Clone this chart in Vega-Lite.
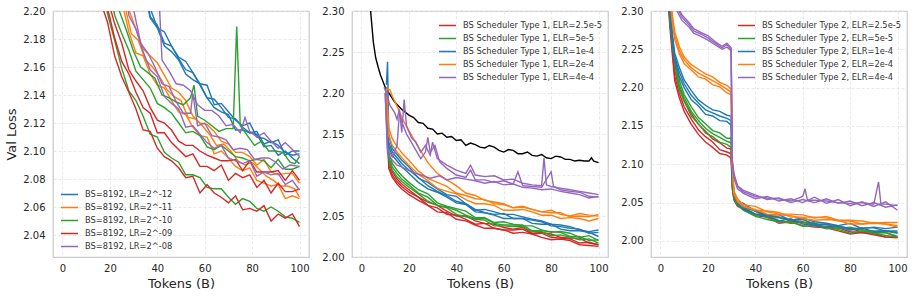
{
"$schema":"https://vega.github.io/schema/vega-lite/v6.json",
"padding":5,
"background":"white",
"spacing":43,
"bounds":"flush",
"resolve":{"scale":{"color":"independent"},"legend":{"color":"independent"}},
"config":{
"font":"DejaVu Sans",
"view":{"stroke":"#cccccc","strokeWidth":1.25},
"axis":{"labelFont":"DejaVu Sans","labelFontSize":10,"labelColor":"#262626","titleFont":"DejaVu Sans","titleFontSize":13,"titleFontWeight":"normal","titleColor":"#262626","ticks":false,"tickSize":0,"domain":false,"gridColor":"#e3e3e3","gridDash":[3,2],"gridWidth":0.8},
"axisX":{"labelPadding":6,"titlePadding":4},
"axisY":{"labelPadding":8,"titlePadding":4},
"legend":{"symbolType":"stroke","symbolStrokeWidth":1.5,"symbolSize":289,"labelFont":"DejaVu Sans","labelFontSize":8.3,"labelColor":"#333333","rowPadding":-0.75,"labelOffset":6,"labelLimit":220}
},
"datasets":{
"p1":[
{"g":"b","k":1,"x":35,"y":2.218},{"g":"b","k":1,"x":37,"y":2.196},{"g":"b","k":1,"x":40,"y":2.190},{"g":"b","k":1,"x":43,"y":2.177},{"g":"b","k":1,"x":46,"y":2.175},{"g":"b","k":1,"x":49,"y":2.166},{"g":"b","k":1,"x":52,"y":2.158},{"g":"b","k":1,"x":55,"y":2.156},{"g":"b","k":1,"x":58,"y":2.147},{"g":"b","k":1,"x":61,"y":2.138},{"g":"b","k":1,"x":64,"y":2.137},{"g":"b","k":1,"x":67,"y":2.131},{"g":"b","k":1,"x":70,"y":2.124},{"g":"b","k":1,"x":73,"y":2.123},{"g":"b","k":1,"x":76,"y":2.117},{"g":"b","k":1,"x":79,"y":2.113},{"g":"b","k":1,"x":82,"y":2.114},{"g":"b","k":1,"x":85,"y":2.105},{"g":"b","k":1,"x":88,"y":2.107},{"g":"b","k":1,"x":91,"y":2.104},{"g":"b","k":1,"x":94,"y":2.099},{"g":"b","k":1,"x":97,"y":2.097},{"g":"b","k":1,"x":100,"y":2.098},
{"g":"b","k":2,"x":35,"y":2.223},{"g":"b","k":2,"x":37,"y":2.202},{"g":"b","k":2,"x":40,"y":2.188},{"g":"b","k":2,"x":43,"y":2.185},{"g":"b","k":2,"x":46,"y":2.175},{"g":"b","k":2,"x":49,"y":2.167},{"g":"b","k":2,"x":52,"y":2.164},{"g":"b","k":2,"x":55,"y":2.156},{"g":"b","k":2,"x":58,"y":2.148},{"g":"b","k":2,"x":61,"y":2.147},{"g":"b","k":2,"x":64,"y":2.133},{"g":"b","k":2,"x":67,"y":2.134},{"g":"b","k":2,"x":70,"y":2.128},{"g":"b","k":2,"x":73,"y":2.122},{"g":"b","k":2,"x":76,"y":2.118},{"g":"b","k":2,"x":79,"y":2.120},{"g":"b","k":2,"x":82,"y":2.110},{"g":"b","k":2,"x":85,"y":2.109},{"g":"b","k":2,"x":88,"y":2.106},{"g":"b","k":2,"x":91,"y":2.108},{"g":"b","k":2,"x":94,"y":2.097},{"g":"b","k":2,"x":97,"y":2.100},{"g":"b","k":2,"x":100,"y":2.100},
{"g":"b","k":3,"x":35,"y":2.211},{"g":"b","k":3,"x":37,"y":2.195},{"g":"b","k":3,"x":40,"y":2.188},{"g":"b","k":3,"x":43,"y":2.175},{"g":"b","k":3,"x":46,"y":2.171},{"g":"b","k":3,"x":49,"y":2.165},{"g":"b","k":3,"x":52,"y":2.155},{"g":"b","k":3,"x":55,"y":2.151},{"g":"b","k":3,"x":58,"y":2.148},{"g":"b","k":3,"x":61,"y":2.138},{"g":"b","k":3,"x":64,"y":2.131},{"g":"b","k":3,"x":67,"y":2.128},{"g":"b","k":3,"x":70,"y":2.126},{"g":"b","k":3,"x":73,"y":2.115},{"g":"b","k":3,"x":76,"y":2.115},{"g":"b","k":3,"x":79,"y":2.113},{"g":"b","k":3,"x":82,"y":2.112},{"g":"b","k":3,"x":85,"y":2.103},{"g":"b","k":3,"x":88,"y":2.104},{"g":"b","k":3,"x":91,"y":2.097},{"g":"b","k":3,"x":94,"y":2.100},{"g":"b","k":3,"x":97,"y":2.095},{"g":"b","k":3,"x":100,"y":2.091},
{"g":"o","k":1,"x":22,"y":2.232},{"g":"o","k":1,"x":25,"y":2.207},{"g":"o","k":1,"x":28,"y":2.185},{"g":"o","k":1,"x":31,"y":2.170},{"g":"o","k":1,"x":34,"y":2.168},{"g":"o","k":1,"x":37,"y":2.155},{"g":"o","k":1,"x":40,"y":2.147},{"g":"o","k":1,"x":43,"y":2.145},{"g":"o","k":1,"x":46,"y":2.136},{"g":"o","k":1,"x":49,"y":2.128},{"g":"o","k":1,"x":52,"y":2.126},{"g":"o","k":1,"x":55,"y":2.117},{"g":"o","k":1,"x":58,"y":2.111},{"g":"o","k":1,"x":61,"y":2.110},{"g":"o","k":1,"x":64,"y":2.098},{"g":"o","k":1,"x":67,"y":2.100},{"g":"o","k":1,"x":70,"y":2.095},{"g":"o","k":1,"x":73,"y":2.089},{"g":"o","k":1,"x":76,"y":2.086},{"g":"o","k":1,"x":79,"y":2.088},{"g":"o","k":1,"x":82,"y":2.079},{"g":"o","k":1,"x":85,"y":2.077},{"g":"o","k":1,"x":88,"y":2.075},{"g":"o","k":1,"x":91,"y":2.076},{"g":"o","k":1,"x":94,"y":2.066},{"g":"o","k":1,"x":97,"y":2.068},{"g":"o","k":1,"x":100,"y":2.066},
{"g":"o","k":2,"x":23,"y":2.237},{"g":"o","k":2,"x":26,"y":2.206},{"g":"o","k":2,"x":29,"y":2.184},{"g":"o","k":2,"x":32,"y":2.179},{"g":"o","k":2,"x":35,"y":2.165},{"g":"o","k":2,"x":38,"y":2.160},{"g":"o","k":2,"x":41,"y":2.153},{"g":"o","k":2,"x":44,"y":2.144},{"g":"o","k":2,"x":47,"y":2.139},{"g":"o","k":2,"x":50,"y":2.136},{"g":"o","k":2,"x":53,"y":2.124},{"g":"o","k":2,"x":56,"y":2.123},{"g":"o","k":2,"x":59,"y":2.118},{"g":"o","k":2,"x":62,"y":2.112},{"g":"o","k":2,"x":65,"y":2.104},{"g":"o","k":2,"x":68,"y":2.105},{"g":"o","k":2,"x":71,"y":2.100},{"g":"o","k":2,"x":74,"y":2.093},{"g":"o","k":2,"x":77,"y":2.090},{"g":"o","k":2,"x":80,"y":2.092},{"g":"o","k":2,"x":83,"y":2.087},{"g":"o","k":2,"x":86,"y":2.082},{"g":"o","k":2,"x":89,"y":2.079},{"g":"o","k":2,"x":92,"y":2.075},{"g":"o","k":2,"x":95,"y":2.075},{"g":"o","k":2,"x":98,"y":2.073},{"g":"o","k":2,"x":100,"y":2.067},
{"g":"o","k":3,"x":25,"y":2.227},{"g":"o","k":3,"x":28,"y":2.201},{"g":"o","k":3,"x":31,"y":2.187},{"g":"o","k":3,"x":34,"y":2.173},{"g":"o","k":3,"x":37,"y":2.168},{"g":"o","k":3,"x":40,"y":2.163},{"g":"o","k":3,"x":43,"y":2.154},{"g":"o","k":3,"x":46,"y":2.145},{"g":"o","k":3,"x":49,"y":2.142},{"g":"o","k":3,"x":52,"y":2.136},{"g":"o","k":3,"x":55,"y":2.125},{"g":"o","k":3,"x":58,"y":2.120},{"g":"o","k":3,"x":61,"y":2.119},{"g":"o","k":3,"x":64,"y":2.114},{"g":"o","k":3,"x":67,"y":2.107},{"g":"o","k":3,"x":70,"y":2.105},{"g":"o","k":3,"x":73,"y":2.099},{"g":"o","k":3,"x":76,"y":2.099},{"g":"o","k":3,"x":79,"y":2.096},{"g":"o","k":3,"x":82,"y":2.090},{"g":"o","k":3,"x":85,"y":2.094},{"g":"o","k":3,"x":88,"y":2.085},{"g":"o","k":3,"x":91,"y":2.083},{"g":"o","k":3,"x":94,"y":2.084},{"g":"o","k":3,"x":97,"y":2.084},{"g":"o","k":3,"x":100,"y":2.077},
{"g":"g","k":1,"x":16,"y":2.240},{"g":"g","k":1,"x":19,"y":2.198},{"g":"g","k":1,"x":22,"y":2.179},{"g":"g","k":1,"x":25,"y":2.159},{"g":"g","k":1,"x":28,"y":2.143},{"g":"g","k":1,"x":31,"y":2.136},{"g":"g","k":1,"x":34,"y":2.125},{"g":"g","k":1,"x":37,"y":2.112},{"g":"g","k":1,"x":40,"y":2.110},{"g":"g","k":1,"x":43,"y":2.099},{"g":"g","k":1,"x":46,"y":2.095},{"g":"g","k":1,"x":49,"y":2.092},{"g":"g","k":1,"x":52,"y":2.083},{"g":"g","k":1,"x":55,"y":2.083},{"g":"g","k":1,"x":58,"y":2.081},{"g":"g","k":1,"x":61,"y":2.074},{"g":"g","k":1,"x":64,"y":2.073},{"g":"g","k":1,"x":67,"y":2.073},{"g":"g","k":1,"x":70,"y":2.067},{"g":"g","k":1,"x":73,"y":2.062},{"g":"g","k":1,"x":76,"y":2.066},{"g":"g","k":1,"x":79,"y":2.064},{"g":"g","k":1,"x":82,"y":2.059},{"g":"g","k":1,"x":85,"y":2.057},{"g":"g","k":1,"x":88,"y":2.060},{"g":"g","k":1,"x":91,"y":2.057},{"g":"g","k":1,"x":94,"y":2.053},{"g":"g","k":1,"x":97,"y":2.052},{"g":"g","k":1,"x":100,"y":2.049},
{"g":"g","k":2,"x":18,"y":2.238},{"g":"g","k":2,"x":19,"y":2.228},{"g":"g","k":2,"x":22,"y":2.197},{"g":"g","k":2,"x":25,"y":2.184},{"g":"g","k":2,"x":28,"y":2.172},{"g":"g","k":2,"x":31,"y":2.157},{"g":"g","k":2,"x":34,"y":2.151},{"g":"g","k":2,"x":37,"y":2.145},{"g":"g","k":2,"x":40,"y":2.134},{"g":"g","k":2,"x":43,"y":2.131},{"g":"g","k":2,"x":46,"y":2.127},{"g":"g","k":2,"x":49,"y":2.120},{"g":"g","k":2,"x":52,"y":2.113},{"g":"g","k":2,"x":55,"y":2.114},{"g":"g","k":2,"x":58,"y":2.111},{"g":"g","k":2,"x":61,"y":2.103},{"g":"g","k":2,"x":64,"y":2.101},{"g":"g","k":2,"x":67,"y":2.104},{"g":"g","k":2,"x":70,"y":2.100},{"g":"g","k":2,"x":73,"y":2.096},{"g":"g","k":2,"x":76,"y":2.095},{"g":"g","k":2,"x":79,"y":2.093},{"g":"g","k":2,"x":82,"y":2.094},{"g":"g","k":2,"x":85,"y":2.093},{"g":"g","k":2,"x":88,"y":2.088},{"g":"g","k":2,"x":91,"y":2.094},{"g":"g","k":2,"x":94,"y":2.087},{"g":"g","k":2,"x":97,"y":2.087},{"g":"g","k":2,"x":100,"y":2.089},
{"g":"g","k":3,"x":21,"y":2.228},{"g":"g","k":3,"x":24,"y":2.200},{"g":"g","k":3,"x":27,"y":2.186},{"g":"g","k":3,"x":30,"y":2.171},{"g":"g","k":3,"x":33,"y":2.160},{"g":"g","k":3,"x":36,"y":2.156},{"g":"g","k":3,"x":39,"y":2.152},{"g":"g","k":3,"x":42,"y":2.140},{"g":"g","k":3,"x":45,"y":2.138},{"g":"g","k":3,"x":48,"y":2.135},{"g":"g","k":3,"x":51,"y":2.133},{"g":"g","k":3,"x":54,"y":2.138},{"g":"g","k":3,"x":55.5,"y":2.147},{"g":"g","k":3,"x":57,"y":2.125},{"g":"g","k":3,"x":60,"y":2.122},{"g":"g","k":3,"x":63,"y":2.118},{"g":"g","k":3,"x":66,"y":2.114},{"g":"g","k":3,"x":69,"y":2.116},{"g":"g","k":3,"x":72,"y":2.116},{"g":"g","k":3,"x":73.5,"y":2.189},{"g":"g","k":3,"x":75,"y":2.118},{"g":"g","k":3,"x":78,"y":2.111},{"g":"g","k":3,"x":81,"y":2.104},{"g":"g","k":3,"x":84,"y":2.107},{"g":"g","k":3,"x":87,"y":2.100},{"g":"g","k":3,"x":90,"y":2.100},{"g":"g","k":3,"x":93,"y":2.099},{"g":"g","k":3,"x":96,"y":2.092},{"g":"g","k":3,"x":98,"y":2.091},{"g":"g","k":3,"x":100,"y":2.096},
{"g":"r","k":1,"x":15,"y":2.226},{"g":"r","k":1,"x":17,"y":2.202},{"g":"r","k":1,"x":19,"y":2.192},{"g":"r","k":1,"x":22,"y":2.168},{"g":"r","k":1,"x":25,"y":2.153},{"g":"r","k":1,"x":28,"y":2.142},{"g":"r","k":1,"x":31,"y":2.130},{"g":"r","k":1,"x":34,"y":2.115},{"g":"r","k":1,"x":37,"y":2.114},{"g":"r","k":1,"x":40,"y":2.102},{"g":"r","k":1,"x":43,"y":2.096},{"g":"r","k":1,"x":46,"y":2.093},{"g":"r","k":1,"x":49,"y":2.088},{"g":"r","k":1,"x":52,"y":2.081},{"g":"r","k":1,"x":55,"y":2.082},{"g":"r","k":1,"x":58,"y":2.070},{"g":"r","k":1,"x":61,"y":2.076},{"g":"r","k":1,"x":64,"y":2.070},{"g":"r","k":1,"x":67,"y":2.067},{"g":"r","k":1,"x":70,"y":2.063},{"g":"r","k":1,"x":73,"y":2.068},{"g":"r","k":1,"x":76,"y":2.058},{"g":"r","k":1,"x":79,"y":2.059},{"g":"r","k":1,"x":82,"y":2.057},{"g":"r","k":1,"x":85,"y":2.061},{"g":"r","k":1,"x":88,"y":2.050},{"g":"r","k":1,"x":91,"y":2.055},{"g":"r","k":1,"x":94,"y":2.052},{"g":"r","k":1,"x":97,"y":2.055},{"g":"r","k":1,"x":100,"y":2.046},
{"g":"r","k":2,"x":16,"y":2.222},{"g":"r","k":2,"x":19,"y":2.202},{"g":"r","k":2,"x":22,"y":2.181},{"g":"r","k":2,"x":25,"y":2.164},{"g":"r","k":2,"x":28,"y":2.155},{"g":"r","k":2,"x":31,"y":2.142},{"g":"r","k":2,"x":34,"y":2.131},{"g":"r","k":2,"x":37,"y":2.127},{"g":"r","k":2,"x":40,"y":2.113},{"g":"r","k":2,"x":43,"y":2.113},{"g":"r","k":2,"x":46,"y":2.106},{"g":"r","k":2,"x":49,"y":2.101},{"g":"r","k":2,"x":52,"y":2.096},{"g":"r","k":2,"x":55,"y":2.098},{"g":"r","k":2,"x":58,"y":2.089},{"g":"r","k":2,"x":61,"y":2.089},{"g":"r","k":2,"x":64,"y":2.086},{"g":"r","k":2,"x":67,"y":2.090},{"g":"r","k":2,"x":70,"y":2.079},{"g":"r","k":2,"x":73,"y":2.084},{"g":"r","k":2,"x":76,"y":2.081},{"g":"r","k":2,"x":79,"y":2.083},{"g":"r","k":2,"x":82,"y":2.074},{"g":"r","k":2,"x":85,"y":2.079},{"g":"r","k":2,"x":88,"y":2.070},{"g":"r","k":2,"x":91,"y":2.077},{"g":"r","k":2,"x":94,"y":2.071},{"g":"r","k":2,"x":97,"y":2.071},{"g":"r","k":2,"x":100,"y":2.073},
{"g":"r","k":3,"x":17,"y":2.234},{"g":"r","k":3,"x":19,"y":2.209},{"g":"r","k":3,"x":22,"y":2.191},{"g":"r","k":3,"x":25,"y":2.177},{"g":"r","k":3,"x":28,"y":2.158},{"g":"r","k":3,"x":31,"y":2.150},{"g":"r","k":3,"x":34,"y":2.143},{"g":"r","k":3,"x":37,"y":2.131},{"g":"r","k":3,"x":40,"y":2.122},{"g":"r","k":3,"x":43,"y":2.120},{"g":"r","k":3,"x":46,"y":2.115},{"g":"r","k":3,"x":49,"y":2.107},{"g":"r","k":3,"x":52,"y":2.104},{"g":"r","k":3,"x":55,"y":2.104},{"g":"r","k":3,"x":58,"y":2.100},{"g":"r","k":3,"x":61,"y":2.097},{"g":"r","k":3,"x":64,"y":2.095},{"g":"r","k":3,"x":67,"y":2.093},{"g":"r","k":3,"x":70,"y":2.093},{"g":"r","k":3,"x":73,"y":2.094},{"g":"r","k":3,"x":76,"y":2.086},{"g":"r","k":3,"x":79,"y":2.093},{"g":"r","k":3,"x":82,"y":2.085},{"g":"r","k":3,"x":85,"y":2.085},{"g":"r","k":3,"x":88,"y":2.085},{"g":"r","k":3,"x":91,"y":2.086},{"g":"r","k":3,"x":94,"y":2.079},{"g":"r","k":3,"x":97,"y":2.086},{"g":"r","k":3,"x":100,"y":2.079},
{"g":"p","k":1,"x":40.5,"y":2.240},{"g":"p","k":1,"x":41,"y":2.200},{"g":"p","k":1,"x":42,"y":2.165},{"g":"p","k":1,"x":45,"y":2.157},{"g":"p","k":1,"x":48,"y":2.148},{"g":"p","k":1,"x":51,"y":2.147},{"g":"p","k":1,"x":54,"y":2.143},{"g":"p","k":1,"x":57,"y":2.133},{"g":"p","k":1,"x":60,"y":2.129},{"g":"p","k":1,"x":63,"y":2.129},{"g":"p","k":1,"x":66,"y":2.125},{"g":"p","k":1,"x":69,"y":2.118},{"g":"p","k":1,"x":72,"y":2.119},{"g":"p","k":1,"x":75,"y":2.113},{"g":"p","k":1,"x":77,"y":2.124},{"g":"p","k":1,"x":79,"y":2.114},{"g":"p","k":1,"x":82,"y":2.110},{"g":"p","k":1,"x":85,"y":2.113},{"g":"p","k":1,"x":88,"y":2.107},{"g":"p","k":1,"x":91,"y":2.102},{"g":"p","k":1,"x":94,"y":2.106},{"g":"p","k":1,"x":97,"y":2.101},{"g":"p","k":1,"x":100,"y":2.096},
{"g":"p","k":2,"x":28,"y":2.228},{"g":"p","k":2,"x":30,"y":2.201},{"g":"p","k":2,"x":33,"y":2.177},{"g":"p","k":2,"x":36,"y":2.170},{"g":"p","k":2,"x":39,"y":2.160},{"g":"p","k":2,"x":42,"y":2.148},{"g":"p","k":2,"x":45,"y":2.146},{"g":"p","k":2,"x":48,"y":2.135},{"g":"p","k":2,"x":51,"y":2.127},{"g":"p","k":2,"x":54,"y":2.127},{"g":"p","k":2,"x":55,"y":2.141},{"g":"p","k":2,"x":57,"y":2.118},{"g":"p","k":2,"x":60,"y":2.120},{"g":"p","k":2,"x":63,"y":2.111},{"g":"p","k":2,"x":66,"y":2.110},{"g":"p","k":2,"x":69,"y":2.108},{"g":"p","k":2,"x":72,"y":2.101},{"g":"p","k":2,"x":75,"y":2.102},{"g":"p","k":2,"x":78,"y":2.101},{"g":"p","k":2,"x":81,"y":2.094},{"g":"p","k":2,"x":84,"y":2.095},{"g":"p","k":2,"x":87,"y":2.095},{"g":"p","k":2,"x":90,"y":2.092},{"g":"p","k":2,"x":93,"y":2.087},{"g":"p","k":2,"x":96,"y":2.090},{"g":"p","k":2,"x":100,"y":2.089},
{"g":"p","k":3,"x":26,"y":2.224},{"g":"p","k":3,"x":28,"y":2.197},{"g":"p","k":3,"x":31,"y":2.187},{"g":"p","k":3,"x":34,"y":2.171},{"g":"p","k":3,"x":37,"y":2.158},{"g":"p","k":3,"x":40,"y":2.153},{"g":"p","k":3,"x":43,"y":2.139},{"g":"p","k":3,"x":46,"y":2.134},{"g":"p","k":3,"x":49,"y":2.130},{"g":"p","k":3,"x":52,"y":2.117},{"g":"p","k":3,"x":55,"y":2.118},{"g":"p","k":3,"x":58,"y":2.112},{"g":"p","k":3,"x":61,"y":2.106},{"g":"p","k":3,"x":64,"y":2.102},{"g":"p","k":3,"x":67,"y":2.104},{"g":"p","k":3,"x":70,"y":2.095},{"g":"p","k":3,"x":73,"y":2.093},{"g":"p","k":3,"x":76,"y":2.091},{"g":"p","k":3,"x":79,"y":2.093},{"g":"p","k":3,"x":82,"y":2.082},{"g":"p","k":3,"x":85,"y":2.085},{"g":"p","k":3,"x":88,"y":2.083},{"g":"p","k":3,"x":91,"y":2.084},{"g":"p","k":3,"x":94,"y":2.076},{"g":"p","k":3,"x":97,"y":2.079},{"g":"p","k":3,"x":100,"y":2.072}
],
"p2k":[
{"x":3,"y":2.33},{"x":4,"y":2.295},{"x":5,"y":2.262},{"x":6,"y":2.243},{"x":7,"y":2.232},{"x":8,"y":2.222},{"x":10,"y":2.207},{"x":12,"y":2.198},{"x":14,"y":2.189},{"x":17,"y":2.180},{"x":20,"y":2.173},{"x":22,"y":2.170},{"x":24,"y":2.164},{"x":26,"y":2.163},{"x":28,"y":2.157},{"x":30,"y":2.156},{"x":32,"y":2.150},{"x":34,"y":2.151},{"x":36,"y":2.146},{"x":38,"y":2.147},{"x":40,"y":2.142},{"x":42,"y":2.143},{"x":44,"y":2.136},{"x":46,"y":2.139},{"x":48,"y":2.137},{"x":50,"y":2.134},{"x":52,"y":2.133},{"x":54,"y":2.136},{"x":56,"y":2.134},{"x":58,"y":2.130},{"x":60,"y":2.128},{"x":62,"y":2.131},{"x":64,"y":2.130},{"x":66,"y":2.126},{"x":68,"y":2.126},{"x":70,"y":2.128},{"x":72,"y":2.124},{"x":74,"y":2.123},{"x":76,"y":2.125},{"x":78,"y":2.121},{"x":80,"y":2.120},{"x":82,"y":2.123},{"x":84,"y":2.122},{"x":86,"y":2.119},{"x":88,"y":2.119},{"x":90,"y":2.117},{"x":92,"y":2.118},{"x":94,"y":2.117},{"x":96,"y":2.117},{"x":97,"y":2.121},{"x":98,"y":2.117},{"x":100,"y":2.115}
],
"p2":[
{"g":"r","k":1,"x":10.5,"y":2.205},{"g":"r","k":1,"x":11.5,"y":2.112},{"g":"r","k":1,"x":13,"y":2.100},{"g":"r","k":1,"x":15,"y":2.092},{"g":"r","k":1,"x":17,"y":2.086},{"g":"r","k":1,"x":20,"y":2.079},{"g":"r","k":1,"x":24,"y":2.073},{"g":"r","k":1,"x":28,"y":2.063},{"g":"r","k":1,"x":32,"y":2.060},{"g":"r","k":1,"x":36,"y":2.052},{"g":"r","k":1,"x":40,"y":2.051},{"g":"r","k":1,"x":44,"y":2.046},{"g":"r","k":1,"x":48,"y":2.040},{"g":"r","k":1,"x":52,"y":2.041},{"g":"r","k":1,"x":56,"y":2.035},{"g":"r","k":1,"x":60,"y":2.033},{"g":"r","k":1,"x":64,"y":2.033},{"g":"r","k":1,"x":68,"y":2.034},{"g":"r","k":1,"x":72,"y":2.028},{"g":"r","k":1,"x":76,"y":2.029},{"g":"r","k":1,"x":80,"y":2.024},{"g":"r","k":1,"x":84,"y":2.023},{"g":"r","k":1,"x":88,"y":2.022},{"g":"r","k":1,"x":92,"y":2.017},{"g":"r","k":1,"x":96,"y":2.018},{"g":"r","k":1,"x":100,"y":2.015},
{"g":"r","k":2,"x":10.5,"y":2.200},{"g":"r","k":2,"x":11.5,"y":2.117},{"g":"r","k":2,"x":13,"y":2.104},{"g":"r","k":2,"x":15,"y":2.095},{"g":"r","k":2,"x":17,"y":2.089},{"g":"r","k":2,"x":20,"y":2.082},{"g":"r","k":2,"x":24,"y":2.073},{"g":"r","k":2,"x":28,"y":2.067},{"g":"r","k":2,"x":32,"y":2.063},{"g":"r","k":2,"x":36,"y":2.056},{"g":"r","k":2,"x":40,"y":2.050},{"g":"r","k":2,"x":44,"y":2.050},{"g":"r","k":2,"x":48,"y":2.044},{"g":"r","k":2,"x":52,"y":2.041},{"g":"r","k":2,"x":56,"y":2.040},{"g":"r","k":2,"x":60,"y":2.036},{"g":"r","k":2,"x":64,"y":2.034},{"g":"r","k":2,"x":68,"y":2.036},{"g":"r","k":2,"x":72,"y":2.029},{"g":"r","k":2,"x":76,"y":2.030},{"g":"r","k":2,"x":80,"y":2.028},{"g":"r","k":2,"x":84,"y":2.024},{"g":"r","k":2,"x":88,"y":2.023},{"g":"r","k":2,"x":92,"y":2.023},{"g":"r","k":2,"x":96,"y":2.017},{"g":"r","k":2,"x":100,"y":2.015},
{"g":"r","k":3,"x":10.5,"y":2.195},{"g":"r","k":3,"x":11.5,"y":2.108},{"g":"r","k":3,"x":13,"y":2.097},{"g":"r","k":3,"x":15,"y":2.089},{"g":"r","k":3,"x":17,"y":2.083},{"g":"r","k":3,"x":20,"y":2.076},{"g":"r","k":3,"x":24,"y":2.069},{"g":"r","k":3,"x":28,"y":2.063},{"g":"r","k":3,"x":32,"y":2.055},{"g":"r","k":3,"x":36,"y":2.054},{"g":"r","k":3,"x":40,"y":2.046},{"g":"r","k":3,"x":44,"y":2.044},{"g":"r","k":3,"x":48,"y":2.039},{"g":"r","k":3,"x":52,"y":2.035},{"g":"r","k":3,"x":56,"y":2.035},{"g":"r","k":3,"x":60,"y":2.033},{"g":"r","k":3,"x":64,"y":2.029},{"g":"r","k":3,"x":68,"y":2.030},{"g":"r","k":3,"x":72,"y":2.028},{"g":"r","k":3,"x":76,"y":2.024},{"g":"r","k":3,"x":80,"y":2.021},{"g":"r","k":3,"x":84,"y":2.022},{"g":"r","k":3,"x":88,"y":2.020},{"g":"r","k":3,"x":92,"y":2.015},{"g":"r","k":3,"x":96,"y":2.014},{"g":"r","k":3,"x":100,"y":2.013},
{"g":"g","k":1,"x":10.5,"y":2.205},{"g":"g","k":1,"x":11.5,"y":2.122},{"g":"g","k":1,"x":13,"y":2.110},{"g":"g","k":1,"x":15,"y":2.102},{"g":"g","k":1,"x":17,"y":2.095},{"g":"g","k":1,"x":20,"y":2.088},{"g":"g","k":1,"x":24,"y":2.078},{"g":"g","k":1,"x":28,"y":2.073},{"g":"g","k":1,"x":32,"y":2.063},{"g":"g","k":1,"x":36,"y":2.061},{"g":"g","k":1,"x":40,"y":2.057},{"g":"g","k":1,"x":44,"y":2.051},{"g":"g","k":1,"x":48,"y":2.047},{"g":"g","k":1,"x":52,"y":2.047},{"g":"g","k":1,"x":56,"y":2.041},{"g":"g","k":1,"x":60,"y":2.039},{"g":"g","k":1,"x":64,"y":2.039},{"g":"g","k":1,"x":68,"y":2.039},{"g":"g","k":1,"x":72,"y":2.032},{"g":"g","k":1,"x":76,"y":2.032},{"g":"g","k":1,"x":80,"y":2.031},{"g":"g","k":1,"x":84,"y":2.030},{"g":"g","k":1,"x":88,"y":2.025},{"g":"g","k":1,"x":92,"y":2.025},{"g":"g","k":1,"x":96,"y":2.020},{"g":"g","k":1,"x":100,"y":2.021},
{"g":"g","k":2,"x":10.5,"y":2.202},{"g":"g","k":2,"x":11.5,"y":2.118},{"g":"g","k":2,"x":13,"y":2.106},{"g":"g","k":2,"x":15,"y":2.098},{"g":"g","k":2,"x":17,"y":2.092},{"g":"g","k":2,"x":20,"y":2.085},{"g":"g","k":2,"x":24,"y":2.077},{"g":"g","k":2,"x":28,"y":2.068},{"g":"g","k":2,"x":32,"y":2.063},{"g":"g","k":2,"x":36,"y":2.060},{"g":"g","k":2,"x":40,"y":2.052},{"g":"g","k":2,"x":44,"y":2.049},{"g":"g","k":2,"x":48,"y":2.046},{"g":"g","k":2,"x":52,"y":2.045},{"g":"g","k":2,"x":56,"y":2.038},{"g":"g","k":2,"x":60,"y":2.038},{"g":"g","k":2,"x":64,"y":2.037},{"g":"g","k":2,"x":68,"y":2.037},{"g":"g","k":2,"x":72,"y":2.031},{"g":"g","k":2,"x":76,"y":2.031},{"g":"g","k":2,"x":80,"y":2.026},{"g":"g","k":2,"x":84,"y":2.027},{"g":"g","k":2,"x":88,"y":2.024},{"g":"g","k":2,"x":92,"y":2.021},{"g":"g","k":2,"x":96,"y":2.022},{"g":"g","k":2,"x":100,"y":2.017},
{"g":"g","k":3,"x":10.5,"y":2.207},{"g":"g","k":3,"x":11.5,"y":2.127},{"g":"g","k":3,"x":13,"y":2.114},{"g":"g","k":3,"x":15,"y":2.106},{"g":"g","k":3,"x":17,"y":2.099},{"g":"g","k":3,"x":20,"y":2.091},{"g":"g","k":3,"x":24,"y":2.082},{"g":"g","k":3,"x":28,"y":2.077},{"g":"g","k":3,"x":32,"y":2.066},{"g":"g","k":3,"x":36,"y":2.062},{"g":"g","k":3,"x":40,"y":2.059},{"g":"g","k":3,"x":44,"y":2.056},{"g":"g","k":3,"x":48,"y":2.048},{"g":"g","k":3,"x":52,"y":2.048},{"g":"g","k":3,"x":56,"y":2.042},{"g":"g","k":3,"x":60,"y":2.043},{"g":"g","k":3,"x":64,"y":2.040},{"g":"g","k":3,"x":68,"y":2.038},{"g":"g","k":3,"x":72,"y":2.038},{"g":"g","k":3,"x":76,"y":2.033},{"g":"g","k":3,"x":80,"y":2.030},{"g":"g","k":3,"x":84,"y":2.031},{"g":"g","k":3,"x":88,"y":2.029},{"g":"g","k":3,"x":92,"y":2.024},{"g":"g","k":3,"x":96,"y":2.026},{"g":"g","k":3,"x":100,"y":2.020},
{"g":"b","k":1,"x":10.5,"y":2.210},{"g":"b","k":1,"x":11,"y":2.238},{"g":"b","k":1,"x":11.5,"y":2.150},{"g":"b","k":1,"x":13,"y":2.132},{"g":"b","k":1,"x":15,"y":2.125},{"g":"b","k":1,"x":17,"y":2.118},{"g":"b","k":1,"x":20,"y":2.110},{"g":"b","k":1,"x":24,"y":2.096},{"g":"b","k":1,"x":28,"y":2.091},{"g":"b","k":1,"x":32,"y":2.083},{"g":"b","k":1,"x":36,"y":2.076},{"g":"b","k":1,"x":40,"y":2.074},{"g":"b","k":1,"x":44,"y":2.065},{"g":"b","k":1,"x":48,"y":2.057},{"g":"b","k":1,"x":52,"y":2.058},{"g":"b","k":1,"x":56,"y":2.055},{"g":"b","k":1,"x":60,"y":2.052},{"g":"b","k":1,"x":64,"y":2.052},{"g":"b","k":1,"x":68,"y":2.049},{"g":"b","k":1,"x":72,"y":2.046},{"g":"b","k":1,"x":76,"y":2.044},{"g":"b","k":1,"x":80,"y":2.040},{"g":"b","k":1,"x":84,"y":2.039},{"g":"b","k":1,"x":88,"y":2.037},{"g":"b","k":1,"x":92,"y":2.033},{"g":"b","k":1,"x":96,"y":2.031},{"g":"b","k":1,"x":100,"y":2.033},
{"g":"b","k":2,"x":10.5,"y":2.205},{"g":"b","k":2,"x":11.5,"y":2.135},{"g":"b","k":2,"x":13,"y":2.124},{"g":"b","k":2,"x":15,"y":2.117},{"g":"b","k":2,"x":17,"y":2.110},{"g":"b","k":2,"x":20,"y":2.102},{"g":"b","k":2,"x":24,"y":2.091},{"g":"b","k":2,"x":28,"y":2.083},{"g":"b","k":2,"x":32,"y":2.079},{"g":"b","k":2,"x":36,"y":2.073},{"g":"b","k":2,"x":40,"y":2.066},{"g":"b","k":2,"x":44,"y":2.064},{"g":"b","k":2,"x":48,"y":2.055},{"g":"b","k":2,"x":52,"y":2.054},{"g":"b","k":2,"x":56,"y":2.051},{"g":"b","k":2,"x":60,"y":2.047},{"g":"b","k":2,"x":64,"y":2.047},{"g":"b","k":2,"x":68,"y":2.047},{"g":"b","k":2,"x":72,"y":2.041},{"g":"b","k":2,"x":76,"y":2.040},{"g":"b","k":2,"x":80,"y":2.040},{"g":"b","k":2,"x":84,"y":2.034},{"g":"b","k":2,"x":88,"y":2.032},{"g":"b","k":2,"x":92,"y":2.032},{"g":"b","k":2,"x":96,"y":2.030},{"g":"b","k":2,"x":100,"y":2.025},
{"g":"b","k":3,"x":10.5,"y":2.205},{"g":"b","k":3,"x":11.5,"y":2.140},{"g":"b","k":3,"x":13,"y":2.128},{"g":"b","k":3,"x":15,"y":2.121},{"g":"b","k":3,"x":17,"y":2.114},{"g":"b","k":3,"x":20,"y":2.106},{"g":"b","k":3,"x":24,"y":2.097},{"g":"b","k":3,"x":28,"y":2.087},{"g":"b","k":3,"x":32,"y":2.080},{"g":"b","k":3,"x":36,"y":2.075},{"g":"b","k":3,"x":40,"y":2.068},{"g":"b","k":3,"x":44,"y":2.065},{"g":"b","k":3,"x":48,"y":2.058},{"g":"b","k":3,"x":52,"y":2.054},{"g":"b","k":3,"x":56,"y":2.052},{"g":"b","k":3,"x":60,"y":2.053},{"g":"b","k":3,"x":64,"y":2.047},{"g":"b","k":3,"x":68,"y":2.047},{"g":"b","k":3,"x":72,"y":2.045},{"g":"b","k":3,"x":76,"y":2.043},{"g":"b","k":3,"x":80,"y":2.038},{"g":"b","k":3,"x":84,"y":2.037},{"g":"b","k":3,"x":88,"y":2.035},{"g":"b","k":3,"x":92,"y":2.034},{"g":"b","k":3,"x":96,"y":2.029},{"g":"b","k":3,"x":100,"y":2.030},
{"g":"o","k":1,"x":10.5,"y":2.205},{"g":"o","k":1,"x":12,"y":2.204},{"g":"o","k":1,"x":13,"y":2.196},{"g":"o","k":1,"x":15,"y":2.184},{"g":"o","k":1,"x":17,"y":2.170},{"g":"o","k":1,"x":20,"y":2.154},{"g":"o","k":1,"x":24,"y":2.134},{"g":"o","k":1,"x":28,"y":2.115},{"g":"o","k":1,"x":32,"y":2.102},{"g":"o","k":1,"x":36,"y":2.094},{"g":"o","k":1,"x":40,"y":2.087},{"g":"o","k":1,"x":44,"y":2.078},{"g":"o","k":1,"x":48,"y":2.075},{"g":"o","k":1,"x":52,"y":2.069},{"g":"o","k":1,"x":56,"y":2.067},{"g":"o","k":1,"x":60,"y":2.065},{"g":"o","k":1,"x":64,"y":2.060},{"g":"o","k":1,"x":68,"y":2.062},{"g":"o","k":1,"x":72,"y":2.058},{"g":"o","k":1,"x":76,"y":2.055},{"g":"o","k":1,"x":80,"y":2.054},{"g":"o","k":1,"x":84,"y":2.054},{"g":"o","k":1,"x":88,"y":2.049},{"g":"o","k":1,"x":92,"y":2.050},{"g":"o","k":1,"x":96,"y":2.049},{"g":"o","k":1,"x":100,"y":2.052},
{"g":"o","k":2,"x":10.5,"y":2.205},{"g":"o","k":2,"x":11.5,"y":2.148},{"g":"o","k":2,"x":13,"y":2.136},{"g":"o","k":2,"x":15,"y":2.128},{"g":"o","k":2,"x":17,"y":2.121},{"g":"o","k":2,"x":20,"y":2.112},{"g":"o","k":2,"x":24,"y":2.101},{"g":"o","k":2,"x":28,"y":2.093},{"g":"o","k":2,"x":32,"y":2.084},{"g":"o","k":2,"x":36,"y":2.080},{"g":"o","k":2,"x":40,"y":2.077},{"g":"o","k":2,"x":44,"y":2.070},{"g":"o","k":2,"x":48,"y":2.065},{"g":"o","k":2,"x":52,"y":2.065},{"g":"o","k":2,"x":56,"y":2.063},{"g":"o","k":2,"x":60,"y":2.057},{"g":"o","k":2,"x":64,"y":2.057},{"g":"o","k":2,"x":68,"y":2.058},{"g":"o","k":2,"x":72,"y":2.055},{"g":"o","k":2,"x":76,"y":2.051},{"g":"o","k":2,"x":80,"y":2.051},{"g":"o","k":2,"x":84,"y":2.047},{"g":"o","k":2,"x":88,"y":2.048},{"g":"o","k":2,"x":92,"y":2.047},{"g":"o","k":2,"x":96,"y":2.044},{"g":"o","k":2,"x":100,"y":2.047},
{"g":"o","k":3,"x":10.5,"y":2.205},{"g":"o","k":3,"x":11.5,"y":2.158},{"g":"o","k":3,"x":13,"y":2.144},{"g":"o","k":3,"x":15,"y":2.135},{"g":"o","k":3,"x":17,"y":2.127},{"g":"o","k":3,"x":20,"y":2.118},{"g":"o","k":3,"x":24,"y":2.105},{"g":"o","k":3,"x":28,"y":2.096},{"g":"o","k":3,"x":32,"y":2.091},{"g":"o","k":3,"x":36,"y":2.086},{"g":"o","k":3,"x":40,"y":2.078},{"g":"o","k":3,"x":44,"y":2.075},{"g":"o","k":3,"x":48,"y":2.071},{"g":"o","k":3,"x":52,"y":2.070},{"g":"o","k":3,"x":56,"y":2.065},{"g":"o","k":3,"x":60,"y":2.064},{"g":"o","k":3,"x":64,"y":2.060},{"g":"o","k":3,"x":68,"y":2.061},{"g":"o","k":3,"x":72,"y":2.058},{"g":"o","k":3,"x":76,"y":2.055},{"g":"o","k":3,"x":80,"y":2.057},{"g":"o","k":3,"x":84,"y":2.052},{"g":"o","k":3,"x":88,"y":2.050},{"g":"o","k":3,"x":92,"y":2.053},{"g":"o","k":3,"x":96,"y":2.051},{"g":"o","k":3,"x":100,"y":2.050},
{"g":"p","k":1,"x":9.5,"y":2.207},{"g":"p","k":1,"x":10.5,"y":2.200},{"g":"p","k":1,"x":12,"y":2.185},{"g":"p","k":1,"x":14,"y":2.176},{"g":"p","k":1,"x":15,"y":2.168},{"g":"p","k":1,"x":16,"y":2.180},{"g":"p","k":1,"x":17,"y":2.152},{"g":"p","k":1,"x":18,"y":2.192},{"g":"p","k":1,"x":19,"y":2.160},{"g":"p","k":1,"x":21,"y":2.146},{"g":"p","k":1,"x":23,"y":2.140},{"g":"p","k":1,"x":25,"y":2.128},{"g":"p","k":1,"x":27,"y":2.136},{"g":"p","k":1,"x":29,"y":2.124},{"g":"p","k":1,"x":30,"y":2.140},{"g":"p","k":1,"x":32,"y":2.120},{"g":"p","k":1,"x":36,"y":2.112},{"g":"p","k":1,"x":40,"y":2.106},{"g":"p","k":1,"x":44,"y":2.102},{"g":"p","k":1,"x":46,"y":2.112},{"g":"p","k":1,"x":48,"y":2.100},{"g":"p","k":1,"x":52,"y":2.098},{"g":"p","k":1,"x":56,"y":2.099},{"g":"p","k":1,"x":60,"y":2.094},{"g":"p","k":1,"x":64,"y":2.095},{"g":"p","k":1,"x":68,"y":2.090},{"g":"p","k":1,"x":72,"y":2.088},{"g":"p","k":1,"x":76,"y":2.087},{"g":"p","k":1,"x":77,"y":2.121},{"g":"p","k":1,"x":78,"y":2.088},{"g":"p","k":1,"x":80,"y":2.086},{"g":"p","k":1,"x":84,"y":2.084},{"g":"p","k":1,"x":88,"y":2.082},{"g":"p","k":1,"x":92,"y":2.080},{"g":"p","k":1,"x":96,"y":2.078},{"g":"p","k":1,"x":100,"y":2.076},
{"g":"p","k":2,"x":10,"y":2.200},{"g":"p","k":2,"x":11,"y":2.132},{"g":"p","k":2,"x":13,"y":2.122},{"g":"p","k":2,"x":15,"y":2.136},{"g":"p","k":2,"x":16,"y":2.176},{"g":"p","k":2,"x":17,"y":2.165},{"g":"p","k":2,"x":19,"y":2.150},{"g":"p","k":2,"x":21,"y":2.140},{"g":"p","k":2,"x":23,"y":2.130},{"g":"p","k":2,"x":25,"y":2.120},{"g":"p","k":2,"x":27,"y":2.128},{"g":"p","k":2,"x":28,"y":2.146},{"g":"p","k":2,"x":29,"y":2.128},{"g":"p","k":2,"x":31,"y":2.136},{"g":"p","k":2,"x":33,"y":2.116},{"g":"p","k":2,"x":36,"y":2.108},{"g":"p","k":2,"x":40,"y":2.100},{"g":"p","k":2,"x":44,"y":2.097},{"g":"p","k":2,"x":46,"y":2.106},{"g":"p","k":2,"x":48,"y":2.094},{"g":"p","k":2,"x":52,"y":2.094},{"g":"p","k":2,"x":56,"y":2.091},{"g":"p","k":2,"x":60,"y":2.093},{"g":"p","k":2,"x":64,"y":2.089},{"g":"p","k":2,"x":66,"y":2.104},{"g":"p","k":2,"x":68,"y":2.087},{"g":"p","k":2,"x":72,"y":2.086},{"g":"p","k":2,"x":76,"y":2.085},{"g":"p","k":2,"x":80,"y":2.104},{"g":"p","k":2,"x":81,"y":2.086},{"g":"p","k":2,"x":84,"y":2.082},{"g":"p","k":2,"x":88,"y":2.080},{"g":"p","k":2,"x":92,"y":2.079},{"g":"p","k":2,"x":96,"y":2.074},{"g":"p","k":2,"x":100,"y":2.073},
{"g":"p","k":3,"x":10,"y":2.200},{"g":"p","k":3,"x":11,"y":2.126},{"g":"p","k":3,"x":13,"y":2.118},{"g":"p","k":3,"x":15,"y":2.112},{"g":"p","k":3,"x":17,"y":2.110},{"g":"p","k":3,"x":19,"y":2.107},{"g":"p","k":3,"x":21,"y":2.104},{"g":"p","k":3,"x":25,"y":2.100},{"g":"p","k":3,"x":29,"y":2.096},{"g":"p","k":3,"x":33,"y":2.099},{"g":"p","k":3,"x":36,"y":2.094},{"g":"p","k":3,"x":40,"y":2.097},{"g":"p","k":3,"x":44,"y":2.095},{"g":"p","k":3,"x":48,"y":2.093},{"g":"p","k":3,"x":52,"y":2.090},{"g":"p","k":3,"x":56,"y":2.092},{"g":"p","k":3,"x":60,"y":2.088},{"g":"p","k":3,"x":64,"y":2.089},{"g":"p","k":3,"x":68,"y":2.085},{"g":"p","k":3,"x":72,"y":2.084},{"g":"p","k":3,"x":76,"y":2.082},{"g":"p","k":3,"x":80,"y":2.083},{"g":"p","k":3,"x":84,"y":2.080},{"g":"p","k":3,"x":88,"y":2.078},{"g":"p","k":3,"x":92,"y":2.076},{"g":"p","k":3,"x":96,"y":2.072},{"g":"p","k":3,"x":100,"y":2.074}
],
"p3":[
{"g":"r","k":1,"x":3,"y":2.320},{"g":"r","k":1,"x":4,"y":2.278},{"g":"r","k":1,"x":5,"y":2.243},{"g":"r","k":1,"x":6,"y":2.209},{"g":"r","k":1,"x":8,"y":2.186},{"g":"r","k":1,"x":10,"y":2.169},{"g":"r","k":1,"x":13,"y":2.152},{"g":"r","k":1,"x":16,"y":2.139},{"g":"r","k":1,"x":19,"y":2.129},{"g":"r","k":1,"x":22,"y":2.122},{"g":"r","k":1,"x":25,"y":2.114},{"g":"r","k":1,"x":28,"y":2.112},{"g":"r","k":1,"x":29.8,"y":2.108},{"g":"r","k":1,"x":30.3,"y":2.068},{"g":"r","k":1,"x":31,"y":2.053},{"g":"r","k":1,"x":32.5,"y":2.045},{"g":"r","k":1,"x":35,"y":2.042},{"g":"r","k":1,"x":40,"y":2.033},{"g":"r","k":1,"x":45,"y":2.031},{"g":"r","k":1,"x":50,"y":2.023},{"g":"r","k":1,"x":55,"y":2.025},{"g":"r","k":1,"x":60,"y":2.020},{"g":"r","k":1,"x":65,"y":2.018},{"g":"r","k":1,"x":70,"y":2.017},{"g":"r","k":1,"x":75,"y":2.013},{"g":"r","k":1,"x":80,"y":2.009},{"g":"r","k":1,"x":85,"y":2.011},{"g":"r","k":1,"x":90,"y":2.008},{"g":"r","k":1,"x":95,"y":2.005},{"g":"r","k":1,"x":100,"y":2.004},
{"g":"r","k":2,"x":3,"y":2.330},{"g":"r","k":2,"x":4,"y":2.285},{"g":"r","k":2,"x":5,"y":2.250},{"g":"r","k":2,"x":6,"y":2.215},{"g":"r","k":2,"x":8,"y":2.192},{"g":"r","k":2,"x":10,"y":2.175},{"g":"r","k":2,"x":13,"y":2.159},{"g":"r","k":2,"x":16,"y":2.145},{"g":"r","k":2,"x":19,"y":2.136},{"g":"r","k":2,"x":22,"y":2.129},{"g":"r","k":2,"x":25,"y":2.119},{"g":"r","k":2,"x":28,"y":2.116},{"g":"r","k":2,"x":29.8,"y":2.114},{"g":"r","k":2,"x":30.3,"y":2.070},{"g":"r","k":2,"x":31,"y":2.055},{"g":"r","k":2,"x":32.5,"y":2.047},{"g":"r","k":2,"x":35,"y":2.042},{"g":"r","k":2,"x":40,"y":2.035},{"g":"r","k":2,"x":45,"y":2.033},{"g":"r","k":2,"x":50,"y":2.026},{"g":"r","k":2,"x":55,"y":2.023},{"g":"r","k":2,"x":60,"y":2.025},{"g":"r","k":2,"x":65,"y":2.020},{"g":"r","k":2,"x":70,"y":2.016},{"g":"r","k":2,"x":75,"y":2.017},{"g":"r","k":2,"x":80,"y":2.012},{"g":"r","k":2,"x":85,"y":2.011},{"g":"r","k":2,"x":90,"y":2.010},{"g":"r","k":2,"x":95,"y":2.005},{"g":"r","k":2,"x":100,"y":2.005},
{"g":"r","k":3,"x":3,"y":2.340},{"g":"r","k":3,"x":4,"y":2.292},{"g":"r","k":3,"x":5,"y":2.257},{"g":"r","k":3,"x":6,"y":2.222},{"g":"r","k":3,"x":8,"y":2.199},{"g":"r","k":3,"x":10,"y":2.182},{"g":"r","k":3,"x":13,"y":2.166},{"g":"r","k":3,"x":16,"y":2.152},{"g":"r","k":3,"x":19,"y":2.143},{"g":"r","k":3,"x":22,"y":2.133},{"g":"r","k":3,"x":25,"y":2.128},{"g":"r","k":3,"x":28,"y":2.121},{"g":"r","k":3,"x":29.8,"y":2.120},{"g":"r","k":3,"x":30.3,"y":2.075},{"g":"r","k":3,"x":31,"y":2.058},{"g":"r","k":3,"x":32.5,"y":2.050},{"g":"r","k":3,"x":35,"y":2.045},{"g":"r","k":3,"x":40,"y":2.039},{"g":"r","k":3,"x":45,"y":2.032},{"g":"r","k":3,"x":50,"y":2.031},{"g":"r","k":3,"x":55,"y":2.026},{"g":"r","k":3,"x":60,"y":2.024},{"g":"r","k":3,"x":65,"y":2.023},{"g":"r","k":3,"x":70,"y":2.017},{"g":"r","k":3,"x":75,"y":2.018},{"g":"r","k":3,"x":80,"y":2.016},{"g":"r","k":3,"x":85,"y":2.012},{"g":"r","k":3,"x":90,"y":2.011},{"g":"r","k":3,"x":95,"y":2.011},{"g":"r","k":3,"x":100,"y":2.005},
{"g":"g","k":1,"x":3,"y":2.333},{"g":"g","k":1,"x":4,"y":2.286},{"g":"g","k":1,"x":5,"y":2.256},{"g":"g","k":1,"x":6,"y":2.231},{"g":"g","k":1,"x":8,"y":2.197},{"g":"g","k":1,"x":10,"y":2.183},{"g":"g","k":1,"x":13,"y":2.163},{"g":"g","k":1,"x":16,"y":2.153},{"g":"g","k":1,"x":19,"y":2.141},{"g":"g","k":1,"x":22,"y":2.136},{"g":"g","k":1,"x":25,"y":2.129},{"g":"g","k":1,"x":28,"y":2.126},{"g":"g","k":1,"x":29.8,"y":2.122},{"g":"g","k":1,"x":30.3,"y":2.072},{"g":"g","k":1,"x":31,"y":2.055},{"g":"g","k":1,"x":32.5,"y":2.046},{"g":"g","k":1,"x":35,"y":2.040},{"g":"g","k":1,"x":40,"y":2.032},{"g":"g","k":1,"x":45,"y":2.028},{"g":"g","k":1,"x":50,"y":2.025},{"g":"g","k":1,"x":55,"y":2.025},{"g":"g","k":1,"x":60,"y":2.019},{"g":"g","k":1,"x":65,"y":2.020},{"g":"g","k":1,"x":70,"y":2.017},{"g":"g","k":1,"x":75,"y":2.015},{"g":"g","k":1,"x":80,"y":2.010},{"g":"g","k":1,"x":85,"y":2.013},{"g":"g","k":1,"x":90,"y":2.010},{"g":"g","k":1,"x":95,"y":2.007},{"g":"g","k":1,"x":100,"y":2.005},
{"g":"g","k":2,"x":3,"y":2.340},{"g":"g","k":2,"x":4,"y":2.292},{"g":"g","k":2,"x":5,"y":2.262},{"g":"g","k":2,"x":6,"y":2.235},{"g":"g","k":2,"x":8,"y":2.203},{"g":"g","k":2,"x":10,"y":2.187},{"g":"g","k":2,"x":13,"y":2.169},{"g":"g","k":2,"x":16,"y":2.157},{"g":"g","k":2,"x":19,"y":2.147},{"g":"g","k":2,"x":22,"y":2.140},{"g":"g","k":2,"x":25,"y":2.135},{"g":"g","k":2,"x":28,"y":2.130},{"g":"g","k":2,"x":29.8,"y":2.128},{"g":"g","k":2,"x":30.3,"y":2.075},{"g":"g","k":2,"x":31,"y":2.057},{"g":"g","k":2,"x":32.5,"y":2.048},{"g":"g","k":2,"x":35,"y":2.040},{"g":"g","k":2,"x":40,"y":2.034},{"g":"g","k":2,"x":45,"y":2.033},{"g":"g","k":2,"x":50,"y":2.026},{"g":"g","k":2,"x":55,"y":2.024},{"g":"g","k":2,"x":60,"y":2.024},{"g":"g","k":2,"x":65,"y":2.023},{"g":"g","k":2,"x":70,"y":2.016},{"g":"g","k":2,"x":75,"y":2.017},{"g":"g","k":2,"x":80,"y":2.015},{"g":"g","k":2,"x":85,"y":2.015},{"g":"g","k":2,"x":90,"y":2.010},{"g":"g","k":2,"x":95,"y":2.011},{"g":"g","k":2,"x":100,"y":2.006},
{"g":"g","k":3,"x":3,"y":2.347},{"g":"g","k":3,"x":4,"y":2.298},{"g":"g","k":3,"x":5,"y":2.267},{"g":"g","k":3,"x":6,"y":2.240},{"g":"g","k":3,"x":8,"y":2.209},{"g":"g","k":3,"x":10,"y":2.191},{"g":"g","k":3,"x":13,"y":2.175},{"g":"g","k":3,"x":16,"y":2.161},{"g":"g","k":3,"x":19,"y":2.153},{"g":"g","k":3,"x":22,"y":2.144},{"g":"g","k":3,"x":25,"y":2.141},{"g":"g","k":3,"x":28,"y":2.134},{"g":"g","k":3,"x":29.8,"y":2.134},{"g":"g","k":3,"x":30.3,"y":2.078},{"g":"g","k":3,"x":31,"y":2.059},{"g":"g","k":3,"x":32.5,"y":2.050},{"g":"g","k":3,"x":35,"y":2.044},{"g":"g","k":3,"x":40,"y":2.039},{"g":"g","k":3,"x":45,"y":2.030},{"g":"g","k":3,"x":50,"y":2.030},{"g":"g","k":3,"x":55,"y":2.027},{"g":"g","k":3,"x":60,"y":2.028},{"g":"g","k":3,"x":65,"y":2.021},{"g":"g","k":3,"x":70,"y":2.022},{"g":"g","k":3,"x":75,"y":2.016},{"g":"g","k":3,"x":80,"y":2.018},{"g":"g","k":3,"x":85,"y":2.014},{"g":"g","k":3,"x":90,"y":2.013},{"g":"g","k":3,"x":95,"y":2.013},{"g":"g","k":3,"x":100,"y":2.010},
{"g":"b","k":1,"x":3,"y":2.343},{"g":"b","k":1,"x":4,"y":2.294},{"g":"b","k":1,"x":5,"y":2.259},{"g":"b","k":1,"x":6,"y":2.235},{"g":"b","k":1,"x":8,"y":2.214},{"g":"b","k":1,"x":10,"y":2.200},{"g":"b","k":1,"x":13,"y":2.184},{"g":"b","k":1,"x":16,"y":2.176},{"g":"b","k":1,"x":19,"y":2.165},{"g":"b","k":1,"x":22,"y":2.163},{"g":"b","k":1,"x":25,"y":2.157},{"g":"b","k":1,"x":28,"y":2.156},{"g":"b","k":1,"x":29.8,"y":2.151},{"g":"b","k":1,"x":30.3,"y":2.082},{"g":"b","k":1,"x":31,"y":2.058},{"g":"b","k":1,"x":32.5,"y":2.048},{"g":"b","k":1,"x":35,"y":2.041},{"g":"b","k":1,"x":40,"y":2.035},{"g":"b","k":1,"x":45,"y":2.032},{"g":"b","k":1,"x":50,"y":2.026},{"g":"b","k":1,"x":55,"y":2.029},{"g":"b","k":1,"x":60,"y":2.022},{"g":"b","k":1,"x":65,"y":2.020},{"g":"b","k":1,"x":70,"y":2.019},{"g":"b","k":1,"x":75,"y":2.019},{"g":"b","k":1,"x":80,"y":2.014},{"g":"b","k":1,"x":85,"y":2.017},{"g":"b","k":1,"x":90,"y":2.012},{"g":"b","k":1,"x":95,"y":2.013},{"g":"b","k":1,"x":100,"y":2.011},
{"g":"b","k":2,"x":3,"y":2.350},{"g":"b","k":2,"x":4,"y":2.300},{"g":"b","k":2,"x":5,"y":2.265},{"g":"b","k":2,"x":6,"y":2.240},{"g":"b","k":2,"x":8,"y":2.220},{"g":"b","k":2,"x":10,"y":2.205},{"g":"b","k":2,"x":13,"y":2.190},{"g":"b","k":2,"x":16,"y":2.180},{"g":"b","k":2,"x":19,"y":2.171},{"g":"b","k":2,"x":22,"y":2.167},{"g":"b","k":2,"x":25,"y":2.163},{"g":"b","k":2,"x":28,"y":2.160},{"g":"b","k":2,"x":29.8,"y":2.157},{"g":"b","k":2,"x":30.3,"y":2.085},{"g":"b","k":2,"x":31,"y":2.060},{"g":"b","k":2,"x":32.5,"y":2.050},{"g":"b","k":2,"x":35,"y":2.044},{"g":"b","k":2,"x":40,"y":2.035},{"g":"b","k":2,"x":45,"y":2.034},{"g":"b","k":2,"x":50,"y":2.031},{"g":"b","k":2,"x":55,"y":2.027},{"g":"b","k":2,"x":60,"y":2.028},{"g":"b","k":2,"x":65,"y":2.022},{"g":"b","k":2,"x":70,"y":2.021},{"g":"b","k":2,"x":75,"y":2.020},{"g":"b","k":2,"x":80,"y":2.016},{"g":"b","k":2,"x":85,"y":2.017},{"g":"b","k":2,"x":90,"y":2.017},{"g":"b","k":2,"x":95,"y":2.013},{"g":"b","k":2,"x":100,"y":2.013},
{"g":"b","k":3,"x":3,"y":2.357},{"g":"b","k":3,"x":4,"y":2.306},{"g":"b","k":3,"x":5,"y":2.271},{"g":"b","k":3,"x":6,"y":2.245},{"g":"b","k":3,"x":8,"y":2.226},{"g":"b","k":3,"x":10,"y":2.210},{"g":"b","k":3,"x":13,"y":2.196},{"g":"b","k":3,"x":16,"y":2.184},{"g":"b","k":3,"x":19,"y":2.177},{"g":"b","k":3,"x":22,"y":2.171},{"g":"b","k":3,"x":25,"y":2.169},{"g":"b","k":3,"x":28,"y":2.164},{"g":"b","k":3,"x":29.8,"y":2.163},{"g":"b","k":3,"x":30.3,"y":2.088},{"g":"b","k":3,"x":31,"y":2.062},{"g":"b","k":3,"x":32.5,"y":2.052},{"g":"b","k":3,"x":35,"y":2.049},{"g":"b","k":3,"x":40,"y":2.039},{"g":"b","k":3,"x":45,"y":2.034},{"g":"b","k":3,"x":50,"y":2.034},{"g":"b","k":3,"x":55,"y":2.027},{"g":"b","k":3,"x":60,"y":2.030},{"g":"b","k":3,"x":65,"y":2.025},{"g":"b","k":3,"x":70,"y":2.023},{"g":"b","k":3,"x":75,"y":2.020},{"g":"b","k":3,"x":80,"y":2.023},{"g":"b","k":3,"x":85,"y":2.016},{"g":"b","k":3,"x":90,"y":2.018},{"g":"b","k":3,"x":95,"y":2.016},{"g":"b","k":3,"x":100,"y":2.018},
{"g":"o","k":1,"x":3,"y":2.364},{"g":"o","k":1,"x":4,"y":2.315},{"g":"o","k":1,"x":5,"y":2.285},{"g":"o","k":1,"x":6,"y":2.263},{"g":"o","k":1,"x":8,"y":2.244},{"g":"o","k":1,"x":10,"y":2.231},{"g":"o","k":1,"x":13,"y":2.223},{"g":"o","k":1,"x":16,"y":2.214},{"g":"o","k":1,"x":19,"y":2.211},{"g":"o","k":1,"x":22,"y":2.204},{"g":"o","k":1,"x":25,"y":2.201},{"g":"o","k":1,"x":28,"y":2.193},{"g":"o","k":1,"x":29.8,"y":2.191},{"g":"o","k":1,"x":30.3,"y":2.097},{"g":"o","k":1,"x":31,"y":2.061},{"g":"o","k":1,"x":32.5,"y":2.051},{"g":"o","k":1,"x":35,"y":2.045},{"g":"o","k":1,"x":40,"y":2.041},{"g":"o","k":1,"x":45,"y":2.035},{"g":"o","k":1,"x":50,"y":2.034},{"g":"o","k":1,"x":55,"y":2.033},{"g":"o","k":1,"x":60,"y":2.029},{"g":"o","k":1,"x":65,"y":2.027},{"g":"o","k":1,"x":70,"y":2.028},{"g":"o","k":1,"x":75,"y":2.027},{"g":"o","k":1,"x":80,"y":2.022},{"g":"o","k":1,"x":85,"y":2.022},{"g":"o","k":1,"x":90,"y":2.023},{"g":"o","k":1,"x":95,"y":2.022},{"g":"o","k":1,"x":100,"y":2.018},
{"g":"o","k":2,"x":3,"y":2.370},{"g":"o","k":2,"x":4,"y":2.320},{"g":"o","k":2,"x":5,"y":2.290},{"g":"o","k":2,"x":6,"y":2.268},{"g":"o","k":2,"x":8,"y":2.248},{"g":"o","k":2,"x":10,"y":2.236},{"g":"o","k":2,"x":13,"y":2.226},{"g":"o","k":2,"x":16,"y":2.219},{"g":"o","k":2,"x":19,"y":2.214},{"g":"o","k":2,"x":22,"y":2.209},{"g":"o","k":2,"x":25,"y":2.204},{"g":"o","k":2,"x":28,"y":2.198},{"g":"o","k":2,"x":29.8,"y":2.194},{"g":"o","k":2,"x":30.3,"y":2.100},{"g":"o","k":2,"x":31,"y":2.063},{"g":"o","k":2,"x":32.5,"y":2.053},{"g":"o","k":2,"x":35,"y":2.045},{"g":"o","k":2,"x":40,"y":2.040},{"g":"o","k":2,"x":45,"y":2.039},{"g":"o","k":2,"x":50,"y":2.037},{"g":"o","k":2,"x":55,"y":2.031},{"g":"o","k":2,"x":60,"y":2.031},{"g":"o","k":2,"x":65,"y":2.031},{"g":"o","k":2,"x":70,"y":2.030},{"g":"o","k":2,"x":75,"y":2.026},{"g":"o","k":2,"x":80,"y":2.026},{"g":"o","k":2,"x":85,"y":2.022},{"g":"o","k":2,"x":90,"y":2.024},{"g":"o","k":2,"x":95,"y":2.022},{"g":"o","k":2,"x":100,"y":2.020},
{"g":"o","k":3,"x":3,"y":2.376},{"g":"o","k":3,"x":4,"y":2.325},{"g":"o","k":3,"x":5,"y":2.295},{"g":"o","k":3,"x":6,"y":2.273},{"g":"o","k":3,"x":8,"y":2.253},{"g":"o","k":3,"x":10,"y":2.240},{"g":"o","k":3,"x":13,"y":2.230},{"g":"o","k":3,"x":16,"y":2.224},{"g":"o","k":3,"x":19,"y":2.218},{"g":"o","k":3,"x":22,"y":2.214},{"g":"o","k":3,"x":25,"y":2.207},{"g":"o","k":3,"x":28,"y":2.203},{"g":"o","k":3,"x":29.8,"y":2.198},{"g":"o","k":3,"x":30.3,"y":2.103},{"g":"o","k":3,"x":31,"y":2.065},{"g":"o","k":3,"x":32.5,"y":2.055},{"g":"o","k":3,"x":35,"y":2.047},{"g":"o","k":3,"x":40,"y":2.045},{"g":"o","k":3,"x":45,"y":2.038},{"g":"o","k":3,"x":50,"y":2.035},{"g":"o","k":3,"x":55,"y":2.035},{"g":"o","k":3,"x":60,"y":2.034},{"g":"o","k":3,"x":65,"y":2.030},{"g":"o","k":3,"x":70,"y":2.032},{"g":"o","k":3,"x":75,"y":2.027},{"g":"o","k":3,"x":80,"y":2.027},{"g":"o","k":3,"x":85,"y":2.026},{"g":"o","k":3,"x":90,"y":2.023},{"g":"o","k":3,"x":95,"y":2.024},{"g":"o","k":3,"x":100,"y":2.024},
{"g":"p","k":1,"x":5,"y":2.340},{"g":"p","k":1,"x":7,"y":2.305},{"g":"p","k":1,"x":9,"y":2.292},{"g":"p","k":1,"x":12,"y":2.282},{"g":"p","k":1,"x":14,"y":2.274},{"g":"p","k":1,"x":17,"y":2.270},{"g":"p","k":1,"x":20,"y":2.265},{"g":"p","k":1,"x":23,"y":2.258},{"g":"p","k":1,"x":26,"y":2.252},{"g":"p","k":1,"x":28,"y":2.256},{"g":"p","k":1,"x":29.8,"y":2.250},{"g":"p","k":1,"x":30.3,"y":2.104},{"g":"p","k":1,"x":31,"y":2.085},{"g":"p","k":1,"x":32.5,"y":2.071},{"g":"p","k":1,"x":35,"y":2.064},{"g":"p","k":1,"x":40,"y":2.058},{"g":"p","k":1,"x":45,"y":2.056},{"g":"p","k":1,"x":50,"y":2.055},{"g":"p","k":1,"x":55,"y":2.052},{"g":"p","k":1,"x":60,"y":2.058},{"g":"p","k":1,"x":61,"y":2.068},{"g":"p","k":1,"x":62,"y":2.053},{"g":"p","k":1,"x":65,"y":2.053},{"g":"p","k":1,"x":70,"y":2.052},{"g":"p","k":1,"x":75,"y":2.050},{"g":"p","k":1,"x":80,"y":2.049},{"g":"p","k":1,"x":85,"y":2.050},{"g":"p","k":1,"x":90,"y":2.048},{"g":"p","k":1,"x":92,"y":2.077},{"g":"p","k":1,"x":93,"y":2.048},{"g":"p","k":1,"x":95,"y":2.048},{"g":"p","k":1,"x":100,"y":2.046},
{"g":"p","k":2,"x":5,"y":2.335},{"g":"p","k":2,"x":7,"y":2.300},{"g":"p","k":2,"x":9,"y":2.288},{"g":"p","k":2,"x":12,"y":2.279},{"g":"p","k":2,"x":14,"y":2.271},{"g":"p","k":2,"x":17,"y":2.267},{"g":"p","k":2,"x":20,"y":2.262},{"g":"p","k":2,"x":23,"y":2.256},{"g":"p","k":2,"x":26,"y":2.250},{"g":"p","k":2,"x":28,"y":2.253},{"g":"p","k":2,"x":29.8,"y":2.248},{"g":"p","k":2,"x":30.3,"y":2.100},{"g":"p","k":2,"x":31,"y":2.082},{"g":"p","k":2,"x":32.5,"y":2.068},{"g":"p","k":2,"x":35,"y":2.062},{"g":"p","k":2,"x":40,"y":2.055},{"g":"p","k":2,"x":45,"y":2.058},{"g":"p","k":2,"x":50,"y":2.052},{"g":"p","k":2,"x":55,"y":2.055},{"g":"p","k":2,"x":60,"y":2.050},{"g":"p","k":2,"x":65,"y":2.057},{"g":"p","k":2,"x":70,"y":2.049},{"g":"p","k":2,"x":75,"y":2.054},{"g":"p","k":2,"x":80,"y":2.046},{"g":"p","k":2,"x":85,"y":2.051},{"g":"p","k":2,"x":90,"y":2.045},{"g":"p","k":2,"x":95,"y":2.051},{"g":"p","k":2,"x":100,"y":2.040},
{"g":"p","k":3,"x":5,"y":2.345},{"g":"p","k":3,"x":7,"y":2.308},{"g":"p","k":3,"x":9,"y":2.295},{"g":"p","k":3,"x":12,"y":2.285},{"g":"p","k":3,"x":14,"y":2.277},{"g":"p","k":3,"x":17,"y":2.272},{"g":"p","k":3,"x":20,"y":2.268},{"g":"p","k":3,"x":23,"y":2.260},{"g":"p","k":3,"x":26,"y":2.254},{"g":"p","k":3,"x":28,"y":2.258},{"g":"p","k":3,"x":29.8,"y":2.252},{"g":"p","k":3,"x":30.3,"y":2.105},{"g":"p","k":3,"x":31,"y":2.088},{"g":"p","k":3,"x":32.5,"y":2.072},{"g":"p","k":3,"x":35,"y":2.066},{"g":"p","k":3,"x":40,"y":2.060},{"g":"p","k":3,"x":45,"y":2.054},{"g":"p","k":3,"x":50,"y":2.056},{"g":"p","k":3,"x":55,"y":2.050},{"g":"p","k":3,"x":60,"y":2.054},{"g":"p","k":3,"x":65,"y":2.050},{"g":"p","k":3,"x":70,"y":2.055},{"g":"p","k":3,"x":75,"y":2.049},{"g":"p","k":3,"x":80,"y":2.052},{"g":"p","k":3,"x":85,"y":2.046},{"g":"p","k":3,"x":90,"y":2.050},{"g":"p","k":3,"x":95,"y":2.044},{"g":"p","k":3,"x":100,"y":2.047}
]
},
"hconcat":[
{"width":256,"height":246,
"data":{"name":"p1"},
"mark":{"type":"line","clip":true,"strokeWidth":1.4},
"encoding":{
"x":{"field":"x","type":"quantitative","scale":{"domain":[-4,104],"nice":false},"axis":{"values":[0,20,40,60,80,100],"title":"Tokens (B)"}},
"y":{"field":"y","type":"quantitative","scale":{"domain":[2.0243,2.2],"nice":false,"zero":false},"axis":{"values":[2.04,2.06,2.08,2.1,2.12,2.14,2.16,2.18,2.2],"format":".2f","title":"Val Loss"}},
"color":{"field":"g","type":"nominal","scale":{"domain":["b","o","g","r","p"],"range":["#1f77b4","#ff7f0e","#2ca02c","#d62728","#9467bd"]},"legend":{"title":null,"orient":"bottom-left","offset":7,"labelExpr":"datum.label=='b'?'BS=8192, LR=2^-12':datum.label=='o'?'BS=8192, LR=2^-11':datum.label=='g'?'BS=8192, LR=2^-10':datum.label=='r'?'BS=8192, LR=2^-09':'BS=8192, LR=2^-08'"}},
"detail":{"field":"k","type":"nominal"}
}},
{"width":256,"height":246,
"layer":[
{"data":{"name":"p2k"},"mark":{"type":"line","clip":true,"strokeWidth":1.4,"color":"black"},
"encoding":{"x":{"field":"x","type":"quantitative"},"y":{"field":"y","type":"quantitative"}}},
{"data":{"name":"p2"},"mark":{"type":"line","clip":true,"strokeWidth":1.4},
"encoding":{
"x":{"field":"x","type":"quantitative","scale":{"domain":[-4,104],"nice":false},"axis":{"values":[0,20,40,60,80,100],"title":"Tokens (B)"}},
"y":{"field":"y","type":"quantitative","scale":{"domain":[2.0,2.3],"nice":false,"zero":false},"axis":{"values":[2.0,2.05,2.1,2.15,2.2,2.25,2.3],"format":".2f","title":null}},
"color":{"field":"g","type":"nominal","scale":{"domain":["r","g","b","o","p"],"range":["#d62728","#2ca02c","#1f77b4","#ff7f0e","#9467bd"]},"legend":{"title":null,"orient":"top-right","offset":5,"labelExpr":"'BS Scheduler Type 1, ELR=' + (datum.label=='r'?'2.5e-5':datum.label=='g'?'5e-5':datum.label=='b'?'1e-4':datum.label=='o'?'2e-4':'4e-4')"}},
"detail":{"field":"k","type":"nominal"}
}}
]},
{"width":256,"height":246,
"data":{"name":"p3"},
"mark":{"type":"line","clip":true,"strokeWidth":1.4},
"encoding":{
"x":{"field":"x","type":"quantitative","scale":{"domain":[-4,104],"nice":false},"axis":{"values":[0,20,40,60,80,100],"title":"Tokens (B)"}},
"y":{"field":"y","type":"quantitative","scale":{"domain":[1.979,2.3],"nice":false,"zero":false},"axis":{"values":[2.0,2.05,2.1,2.15,2.2,2.25,2.3],"format":".2f","title":null}},
"color":{"field":"g","type":"nominal","scale":{"domain":["r","g","b","o","p"],"range":["#d62728","#2ca02c","#1f77b4","#ff7f0e","#9467bd"]},"legend":{"title":null,"orient":"top-right","offset":5,"labelExpr":"'BS Scheduler Type 2, ELR=' + (datum.label=='r'?'2.5e-5':datum.label=='g'?'5e-5':datum.label=='b'?'1e-4':datum.label=='o'?'2e-4':'4e-4')"}},
"detail":{"field":"k","type":"nominal"}
}}
]
}
